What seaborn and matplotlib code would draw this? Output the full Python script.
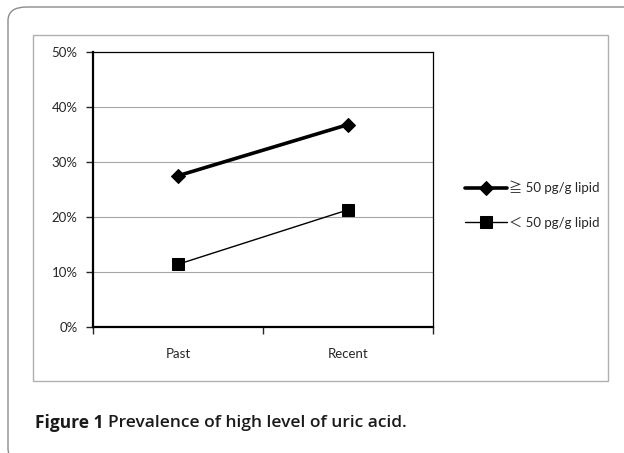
import matplotlib
matplotlib.use('Agg')
import matplotlib.pyplot as plt
import seaborn as sns
import pandas as pd
from matplotlib.patches import FancyBboxPatch, Rectangle
from matplotlib.ticker import PercentFormatter

periods = ['Past', 'Recent']
high_group = [27.5, 36.8]   # >= 50 pg/g lipid
low_group = [11.4, 21.3]    # < 50 pg/g lipid
yticks = [0, 10, 20, 30, 40, 50]

df = pd.DataFrame({'period': periods * 2,
                   'value': high_group + low_group,
                   'group': ['\u2267 50 pg/g lipid'] * 2 + ['\uff1c 50 pg/g lipid'] * 2})

sns.set_style('white')
plt.rcParams['font.family'] = ['Lato', 'Noto Sans CJK JP', 'DejaVu Sans']

W, H = 624, 453
fig = plt.figure(figsize=(W / 100, H / 100), dpi=100)

# outer rounded frame (runs off the right and bottom) and inner chart frame
fig.patches.append(FancyBboxPatch((8 / W, 1 - 462 / H), 640 / W, 455 / H,
                                  boxstyle='round,pad=0,rounding_size=0.03',
                                  transform=fig.transFigure, fill=False,
                                  edgecolor='#8c8c8c', linewidth=1.0))
fig.patches.append(Rectangle((33 / W, 1 - 381 / H), 575 / W, 346 / H,
                             transform=fig.transFigure, fill=False,
                             edgecolor='#b0b0b0', linewidth=1.0))

ax = fig.add_axes([93 / W, 1 - 327 / H, 340 / W, 275 / H])
ax.set_xlim(-0.5, 1.5)
ax.set_ylim(0, 50)
ax.set_yticks(yticks)
ax.yaxis.set_major_formatter(PercentFormatter(decimals=0))
for y in yticks[1:-1]:
    ax.axhline(y, color='#a6a6a6', linewidth=0.8, zorder=0)

hi = df[df['group'].str.startswith('\u2267')]
lo = df[~df['group'].str.startswith('\u2267')]
sns.lineplot(data=hi, x='period', y='value', ax=ax, color='black', linewidth=2.6,
             marker='D', markersize=7.5, markeredgecolor='black', label=hi['group'].iloc[0],
             sort=False)
sns.lineplot(data=lo, x='period', y='value', ax=ax, color='black', linewidth=1.0,
             marker='s', markersize=8.5, markeredgecolor='black', label=lo['group'].iloc[0],
             sort=False)

ax.set_xlim(-0.5, 1.5)
ax.set_xlabel('')
ax.set_ylabel('')
ax.set_xticks([0, 1])
ax.set_xticklabels(periods)
ax.set_xticks([-0.5, 0.5, 1.5], minor=True)
ax.tick_params(axis='x', which='major', length=0, pad=15, labelsize=9.5)
ax.tick_params(axis='x', which='minor', length=5, width=1.0, direction='out', bottom=True)
ax.tick_params(axis='y', length=5, width=1.0, direction='out', left=True, labelsize=9.5, pad=6)
for s in ['left', 'bottom']:
    ax.spines[s].set_linewidth(1.6)
    ax.spines[s].set_color('black')
for s in ['right', 'top']:
    ax.spines[s].set_linewidth(0.9)
    ax.spines[s].set_color('black')

ax.legend(loc='center left', bbox_to_anchor=(1.06, 0.445), frameon=False, fontsize=9.5,
          handlelength=3.2, handletextpad=0.1, labelspacing=1.7)

# caption: bold "Figure 1" followed by the title
t1 = fig.text(35 / W, 1 - 423 / H, 'Figure 1', fontsize=12.5, fontweight='bold',
              family=['Open Sans'], va='center', ha='left', color='#1a1a1a')
fig.canvas.draw()
bb = t1.get_window_extent()
fig.text((bb.x1 + 5) / W, 1 - 423 / H, 'Prevalence of high level of uric acid.', fontsize=12.5,
         family=['Open Sans'], va='center', ha='left', fontweight='semibold', color='#1a1a1a')

fig.savefig('out.png', dpi=100)
